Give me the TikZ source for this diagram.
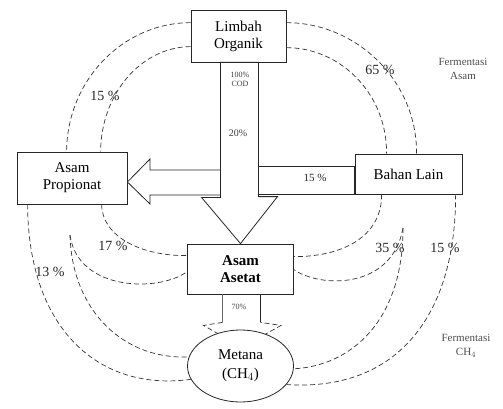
\documentclass[tikz,border=0pt]{standalone}
\usepackage{fontspec}
\setmainfont{Liberation Serif}
\usetikzlibrary{shapes.geometric}
\tikzset{ kotak/.style  = { rectangle
                          , draw         = black!85
                          , line width   = 0.8pt
                          , fill         = white
                          , align        = center
                          , inner sep    = 1pt
                          , font         = \fontsize{15}{17}\selectfont
                          },
          alur/.style   = { draw         = black!80
                          , line width   = 0.7pt
                          , dash pattern = on 5pt off 3pt
                          },
          panah/.style  = { draw         = black!85
                          , line width   = 0.8pt
                          , fill         = white
                          },
          persen/.style = { inner sep    = 0pt
                          , text         = black!85
                          , font         = \fontsize{14}{15}\selectfont
                          },
          kecil/.style  = { inner sep    = 0pt
                          , align        = center
                          , text         = black!75
                          , font         = \fontsize{8}{9}\selectfont
                          },
          ket/.style    = { inner sep    = 0pt
                          , align        = center
                          , text         = black!70
                          , font         = \fontsize{11}{14}\selectfont
                          }
        }

\begin{document}
\begin{tikzpicture}[x=1pt, y=-1pt]
    \useasboundingbox (0,0) rectangle (503,409);

    \node[kotak, minimum width=95pt,  minimum height=52pt] (limbah)    at (238.5,36)  {Limbah\\Organik};
    \node[kotak, minimum width=110pt, minimum height=52pt] (propionat) at (72,178)    {Asam\\Propionat};
    \node[kotak, minimum width=107pt, minimum height=40pt] (bahan)     at (408.5,174) {Bahan Lain};
    \node[kotak, minimum width=106pt, minimum height=50pt,
          font=\fontsize{15}{17}\selectfont\bfseries]       (asetat)    at (240.5,269) {Asam\\Asetat};

    % panah besar
    \draw[panah] (222,170) -- (150,170) -- (150,159) -- ([yshift=-4pt]propionat.east)
                 -- (150,204) -- (150,195) -- (222,195) -- cycle;
    \draw[panah] (258,166) rectangle (bahan.south west);
    \draw[panah] ([xshift=-18pt]limbah.south) -- ++(0,135) -- ++(-19,0) -- (asetat.north)
                 -- ++(37,-47) -- ++(-19,0) -- ([xshift=20pt]limbah.south) -- cycle;

    % panah kecil ke metana
    \draw[line width=0.7pt, black!60] ([xshift=-18pt]asetat.south) -- ++(0,28) coordinate (kiriBawah);
    \draw[line width=0.8pt, black!85] ([xshift=20pt]asetat.south) -- ++(0,28) coordinate (kananBawah);
    \draw[alur] (kiriBawah) -- ++(-19,3) -- ++(38.5,22) -- ++(39,-22) -- (kananBawah);

    \node[ellipse, draw=black!85, line width=0.8pt, fill=white, align=center,
          minimum width=106pt, minimum height=72pt, inner sep=0pt,
          font=\fontsize{15}{19}\selectfont] (metana) at (240.5,366) {Metana\\(CH$_4$)};

    % fermentasi asam
    \draw[alur] ([yshift=-13pt]limbah.north west) .. controls (122,23) and (67,81) .. ([xshift=50pt]propionat.north west);
    \draw[alur] ([yshift=-37pt]limbah.north west) .. controls (141,47) and (101,94) .. ([xshift=84pt]propionat.north west);
    \draw[alur] ([yshift=-13pt]limbah.north east) .. controls (358,23) and (417,82) .. ([xshift=62pt]bahan.north west);
    \draw[alur] ([yshift=-38pt]limbah.north east) .. controls (342,48) and (387,95) .. ([xshift=32pt]bahan.north west);

    % ke asam asetat dan metana
    \coordinate (cabangKiri)  at (70,235);
    \coordinate (cabangKanan) at (403,228);
    \draw[alur] ([xshift=85pt]propionat.south west) .. controls (102,236) and (140,256) .. ([yshift=-12pt]asetat.north west);
    \draw[alur] (cabangKiri) .. controls (78,292) and (160,292) .. ([yshift=-28pt]asetat.north west);
    \draw[alur] (cabangKiri) .. controls (72,312) and (125,360) .. (metana.170);
    \draw[alur] ([xshift=11pt]propionat.south west) .. controls (28,330) and (100,392) .. (metana.195);
    \draw[alur] ([xshift=27pt]bahan.south west) .. controls (382,238) and (340,257) .. ([yshift=-13pt]asetat.north east);
    \draw[alur] (cabangKanan) .. controls (392,290) and (320,288) .. ([yshift=-26pt]asetat.north east);
    \draw[alur] (cabangKanan) .. controls (403,322) and (350,366) .. (metana.357);
    \draw[alur] ([xshift=101pt]bahan.south west) .. controls (456,312) and (400,392) .. (metana.338);

    % label
    \node[persen] (p15a) at (105,96)  {15 \%};
    \node[persen] (p65)  at (380,70)  {65 \%};
    \node[ket]    (fAsam) at (463,69) {Fermentasi\\Asam};
    \node[kecil]  (cod)  at (240,79)  {100\%\\COD};
    \node[kecil, font=\fontsize{10}{11}\selectfont] (p20) at (238,133) {20\%};
    \node[persen, font=\fontsize{11}{12}\selectfont] (p15b) at (315,178) {15 \%};
    \node[persen] (p17)  at (113,246) {17 \%};
    \node[persen] (p13)  at (50,272)  {13 \%};
    \node[persen] (p35)  at (390,248) {35 \%};
    \node[persen] (p15c) at (445,248) {15 \%};
    \node[kecil]  (p70)  at (239,307) {70\%};
    \node[ket]    (fCH4) at (466,346) {Fermentasi\\CH$_4$};
\end{tikzpicture}
\end{document}
